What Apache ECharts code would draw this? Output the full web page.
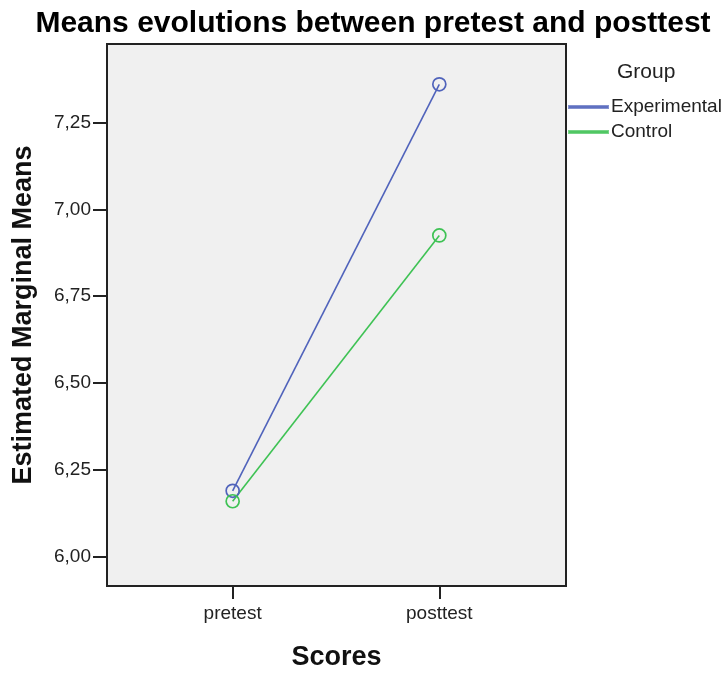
<!DOCTYPE html>
<html>
<head>
<meta charset="utf-8">
<script src="https://cdn.jsdelivr.net/npm/echarts@6/dist/echarts.min.js"></script>
<style>html,body{margin:0;padding:0;background:#fff}#c{width:727px;height:676px}</style>
</head>
<body>
<div id="c"></div>
<script>
var categories = ['pretest', 'posttest'];
var groupNames = ['Experimental', 'Control'];
var experimental = [6.19, 7.36];
var control = [6.16, 6.925];
var yTickValues = [6.00, 6.25, 6.50, 6.75, 7.00, 7.25];
var yTickLabels = ['6,00', '6,25', '6,50', '6,75', '7,00', '7,25'];
var colors = ['#5063bb', '#3ec254'];

function toPoints(arr) { return arr.map(function (v, i) { return [i, v]; }); }

var font = 'Liberation Sans';
var chart = echarts.init(document.getElementById('c'));
chart.setOption({
  animation: false,
  backgroundColor: '#fff',
  title: {
    text: 'Means evolutions between pretest and posttest',
    left: 368, top: 4, textAlign: 'center',
    textStyle: { fontFamily: font, fontWeight: 'bold', fontSize: 30, color: '#000' }
  },
  graphic: [{
    type: 'text', left: 617, top: 62,
    style: { text: 'Group', font: '21px "Liberation Sans"', fill: '#222' }
  }],
  legend: {
    orient: 'vertical', left: 563, top: 92,
    icon: 'rect', itemWidth: 39, itemHeight: 2, itemGap: 5,
    textStyle: { fontFamily: font, fontSize: 19, color: '#222', lineHeight: 20, padding: [0,0,0,-2] },
    data: [
      { name: groupNames[0], itemStyle: { color: colors[0], opacity: 0.7 } },
      { name: groupNames[1], itemStyle: { color: colors[1], opacity: 0.7 } }
    ]
  },
  grid: {
    left: 107, top: 44, right: 161, bottom: 83,
    show: true, backgroundColor: '#f0f0f0', borderColor: '#222', borderWidth: 2
  },
  xAxis: {
    type: 'value', min: -0.608, max: 1.613,
    name: 'Scores', nameLocation: 'middle', nameGap: 58,
    nameTextStyle: { fontFamily: font, fontWeight: 'bold', fontSize: 27, color: '#111' },
    axisLine: { show: false, onZero: false },
    axisTick: { show: true, length: 13, customValues: [0, 1], lineStyle: { color: '#222', width: 2 } },
    axisLabel: { customValues: [0, 1], fontFamily: font, fontSize: 19, color: '#222', margin: 18,
      formatter: function (v) { return categories[Math.round(v)]; } },
    splitLine: { show: false }
  },
  yAxis: {
    type: 'value', min: 5.916, max: 7.476,
    name: 'Estimated Marginal Means', nameLocation: 'middle', nameGap: 70,
    nameTextStyle: { fontFamily: font, fontWeight: 'bold', fontSize: 27, color: '#111' },
    axisLine: { show: false, onZero: false },
    axisTick: { show: true, length: 14, customValues: yTickValues, lineStyle: { color: '#222', width: 2 } },
    axisLabel: { customValues: yTickValues, fontFamily: font, fontSize: 19, color: '#222', margin: 16,
      formatter: function (v) { var i = yTickValues.indexOf(Math.round(v * 100) / 100); return i >= 0 ? yTickLabels[i] : ''; } },
    splitLine: { show: false }
  },
  series: [
    { name: groupNames[0], type: 'line', data: toPoints(experimental),
      symbol: 'circle', symbolSize: 13,
      lineStyle: { color: colors[0], width: 1.6 },
      itemStyle: { color: 'transparent', borderColor: colors[0], borderWidth: 1.7 } },
    { name: groupNames[1], type: 'line', data: toPoints(control),
      symbol: 'circle', symbolSize: 13,
      lineStyle: { color: colors[1], width: 1.6 },
      itemStyle: { color: 'transparent', borderColor: colors[1], borderWidth: 1.7 } }
  ]
});
</script>
</body>
</html>
